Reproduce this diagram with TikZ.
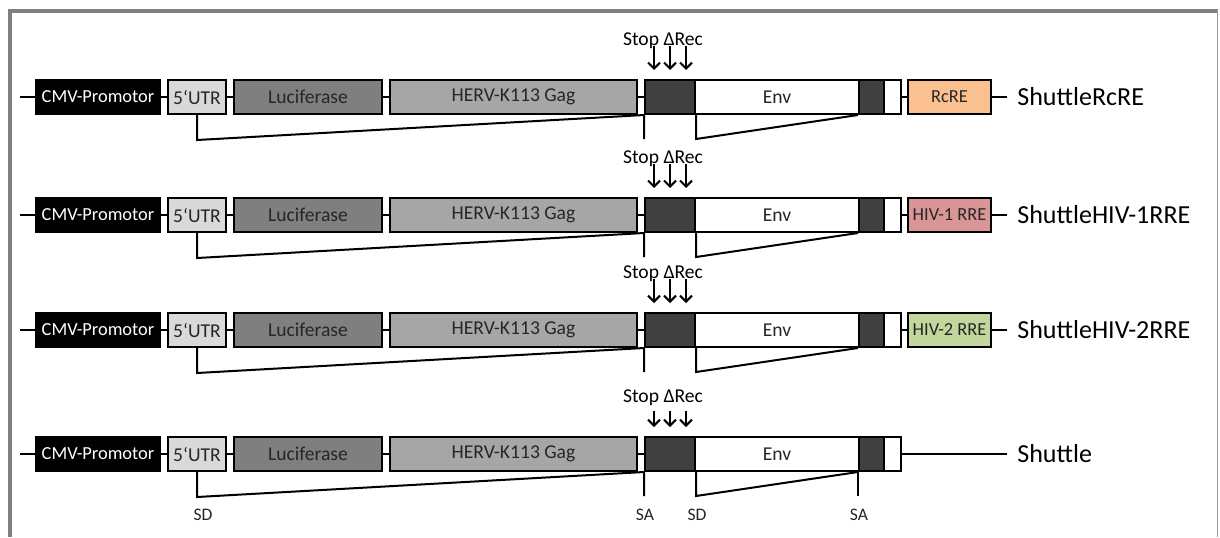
\documentclass[tikz,border=0pt]{standalone}
\usepackage{fontspec}
\setmainfont{Carlito}
\usetikzlibrary{arrows.meta}
\definecolor{utrc}{HTML}{D9D9D9}
\definecolor{lucc}{HTML}{7F7F7F}
\definecolor{gagc}{HTML}{A6A6A6}
\definecolor{darkc}{HTML}{404040}
\definecolor{rcrec}{HTML}{FAC090}
\definecolor{hivac}{HTML}{D99694}
\definecolor{hivbc}{HTML}{C3D69B}
\definecolor{framec}{HTML}{808080}
\definecolor{txtc}{HTML}{262626}
\tikzset{
 seg/.style={draw=black, line width=1pt, inner sep=0pt, minimum height=17pt,
   font=\fontsize{9.8}{11}\selectfont, text=txtc},
 smallseg/.style={font=\fontsize{9.2}{11}\selectfont},
 link/.style={line width=1pt},
 stoplbl/.style={font=\fontsize{9.8}{11}\selectfont, inner sep=0pt, text=black},
 hit/.style={line width=1pt, -{Straight Barb[length=3pt,width=6pt,line width=1pt]}},
 namelbl/.style={font=\fontsize{13}{15}\selectfont, anchor=west, inner ysep=0pt, inner xsep=5pt, text=black},
 ssl/.style={font=\fontsize{8.8}{10}\selectfont, inner sep=0pt, text=txtc}
}
% name, x1, x2, y, fill, text, extra style
\newcommand\segbox[7]{\node[seg, #7, fill=#5, minimum width={(#3-#2)*0.5pt}] (#1) at ({(#2+#3)/2},#4) {#6};}
% row id, y, arrow start offset
\newcommand\construct[3]{%
 \segbox{cmv#1}{36}{160}{#2}{black}{\textcolor{white}{CMV-Promotor}}{smallseg}
 \segbox{utr#1}{168}{226}{#2}{utrc}{5‘UTR}{}
 \segbox{luc#1}{234}{382}{#2}{lucc}{Luciferase}{}
 \segbox{gag#1}{390}{637}{#2}{gagc}{HERV-K113 Gag}{}
 \segbox{stp#1}{645}{695}{#2}{darkc}{}{}
 \segbox{env#1}{695}{859}{#2}{white}{Env}{}
 \segbox{sa#1}{859}{884}{#2}{darkc}{}{}
 \segbox{end#1}{884}{901}{#2}{white}{}{}
 \coordinate (in#1) at (20,#2);
 \draw[link] (in#1) -- (cmv#1.west) (cmv#1.east) -- (utr#1.west)
   (utr#1.east) -- (luc#1.west) (luc#1.east) -- (gag#1.west)
   (gag#1.east) -- (stp#1.west);
 \draw[link] (utr#1.south) -- ++(0,25) -- (stp#1.south west) -- ++(0,24);
 \draw[link] (stp#1.south east) -- ++(0,24) -- (sa#1.south west);
 \node[stoplbl] (stop#1) at (663,{#2-56}) {Stop ΔRec};
 \draw[hit] (stp#1.north) ++(-16,-#3) -- ++(0,#3-9);
 \draw[hit] (stp#1.north) ++(0,-#3) -- ++(0,#3-9);
 \draw[hit] (stp#1.north) ++(16,-#3) -- ++(0,#3-9);
}
\begin{document}
\begin{tikzpicture}[x=0.5pt,y=-0.5pt]
\useasboundingbox (0,0) rectangle (1220,537);
% frame
\draw[framec, line width=2pt] (8,11) -- (1218,11);
\draw[framec, line width=2pt] (10,10) -- (10,537);
\draw[framec!80, line width=0.6pt] (1217.5,10) -- (1217.5,537);

\construct{1}{97}{33}
\construct{2}{215}{33}
\construct{3}{330}{33}
\construct{4}{454}{25}

% row 1
\segbox{rre1}{908}{991}{97}{rcrec}{RcRE}{smallseg}
\node[namelbl] (nm1) at (1007,97) {ShuttleRcRE};
\draw[link] (end1.east) -- (rre1.west) (rre1.east) -- (nm1.west);
% row 2
\segbox{rre2}{908}{991}{215}{hivac}{HIV-1 RRE}{smallseg}
\node[namelbl] (nm2) at (1007,215) {ShuttleHIV-1RRE};
\draw[link] (end2.east) -- (rre2.west) (rre2.east) -- (nm2.west);
% row 3
\segbox{rre3}{908}{991}{330}{hivbc}{HIV-2 RRE}{smallseg}
\node[namelbl] (nm3) at (1007,330) {ShuttleHIV-2RRE};
\draw[link] (end3.east) -- (rre3.west) (rre3.east) -- (nm3.west);
% row 4
\node[namelbl] (nm4) at (1007,454) {Shuttle};
\draw[link] (end4.east) -- (nm4.west);
\draw[link] (sa4.south west) -- ++(0,24);
\node[ssl] (sdA) at (203,515) {SD};
\node[ssl] (saA) at (645,515) {SA};
\node[ssl] (sdB) at (697,515) {SD};
\node[ssl] (saB) at (859,515) {SA};
\end{tikzpicture}
\end{document}
